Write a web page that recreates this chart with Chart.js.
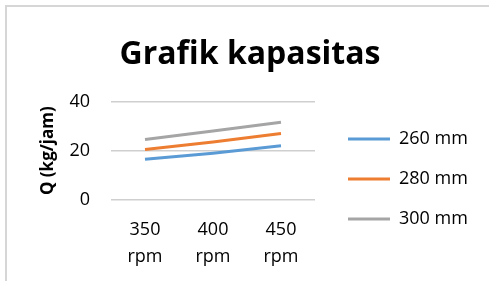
<!DOCTYPE html>
<html>
<head>
<meta charset="utf-8">
<script src="https://cdn.jsdelivr.net/npm/chart.js@4/dist/chart.umd.min.js"></script>
<style>
  html, body { margin: 0; padding: 0; background: #fff; }
  #wrap { position: relative; width: 489px; height: 281px; overflow: hidden; }
  #frame { position: absolute; left: 5px; top: 5px; width: 600px; height: 400px;
           border-left: 2px solid #d6d6d6; border-top: 2px solid #d6d6d6; pointer-events: none; }
  canvas { position: absolute; left: 0; top: 0; }
</style>
</head>
<body>
<div id="wrap">
  <canvas id="c" width="489" height="281"></canvas>
  <div id="frame"></div>
</div>
<script>
const categories = [["350", "rpm"], ["400", "rpm"], ["450", "rpm"]];
const seriesNames = ["260 mm", "280 mm", "300 mm"];
const series260 = [16.5, 19, 22];
const series280 = [20.5, 23.5, 27];
const series300 = [24.5, 28, 31.5];
const yTicks = [0, 20, 40];
const colors = ["#5b9bd5", "#ed7d31", "#a5a5a5"];

const FONT = "'Open Sans', sans-serif";

const chart = new Chart(document.getElementById('c'), {
  type: 'line',
  data: {
    labels: categories,
    datasets: [series260, series280, series300].map((d, i) => ({
      label: seriesNames[i],
      data: d,
      borderColor: colors[i],
      backgroundColor: colors[i],
      borderWidth: 3,
      pointRadius: 0,
      tension: 0,
      fill: false
    }))
  },
  options: {
    responsive: false,
    animation: false,
    layout: { padding: { left: 31, right: 20, top: 0, bottom: 11 } },
    plugins: {
      title: {
        display: true,
        text: 'Grafik kapasitas',
        color: '#000',
        font: { family: FONT, size: 32, weight: 'bold', lineHeight: 1.2 },
        padding: { top: 36, bottom: 27 }
      },
      legend: {
        display: true,
        position: 'right',
        align: 'start',
        maxWidth: 143,
        title: { display: true, text: '', font: { size: 10, lineHeight: 1 }, padding: { top: 98, bottom: 0 } },
        labels: {
          usePointStyle: true,
          pointStyle: 'line',
          pointStyleWidth: 42,
          padding: 22,
          color: '#000',
          font: { family: FONT, size: 18 }
        }
      },
      tooltip: { enabled: false }
    },
    scales: {
      x: {
        offset: true,
        afterFit: s => { s.height = 70; },
        grid: { display: false, drawTicks: false },
        border: { display: false },
        ticks: {
          color: '#000',
          padding: 16,
          maxRotation: 0,
          font: { family: FONT, size: 18, lineHeight: 1.5 }
        }
      },
      y: {
        min: 0,
        max: 40,
        afterBuildTicks: s => { s.ticks = yTicks.map(v => ({ value: v })); },
        afterFit: s => { s.width = 80; },
        grid: { color: '#cfcfcf', lineWidth: 1.5, drawTicks: false },
        border: { display: false },
        ticks: {
          color: '#000',
          padding: 21,
          font: { family: FONT, size: 18 }
        },
        title: {
          display: true,
          text: 'Q (kg/jam)',
          color: '#000',
          font: { family: FONT, size: 17, weight: 'bold', lineHeight: 1.2 },
          padding: { top: 7, bottom: 0 }
        }
      },
      y2: {
        position: 'right',
        display: true,
        grid: { display: false, drawTicks: false },
        border: { display: false },
        ticks: { display: false },
        afterFit: s => { s.width = 11; }
      }
    }
  }
});
</script>
</body>
</html>
